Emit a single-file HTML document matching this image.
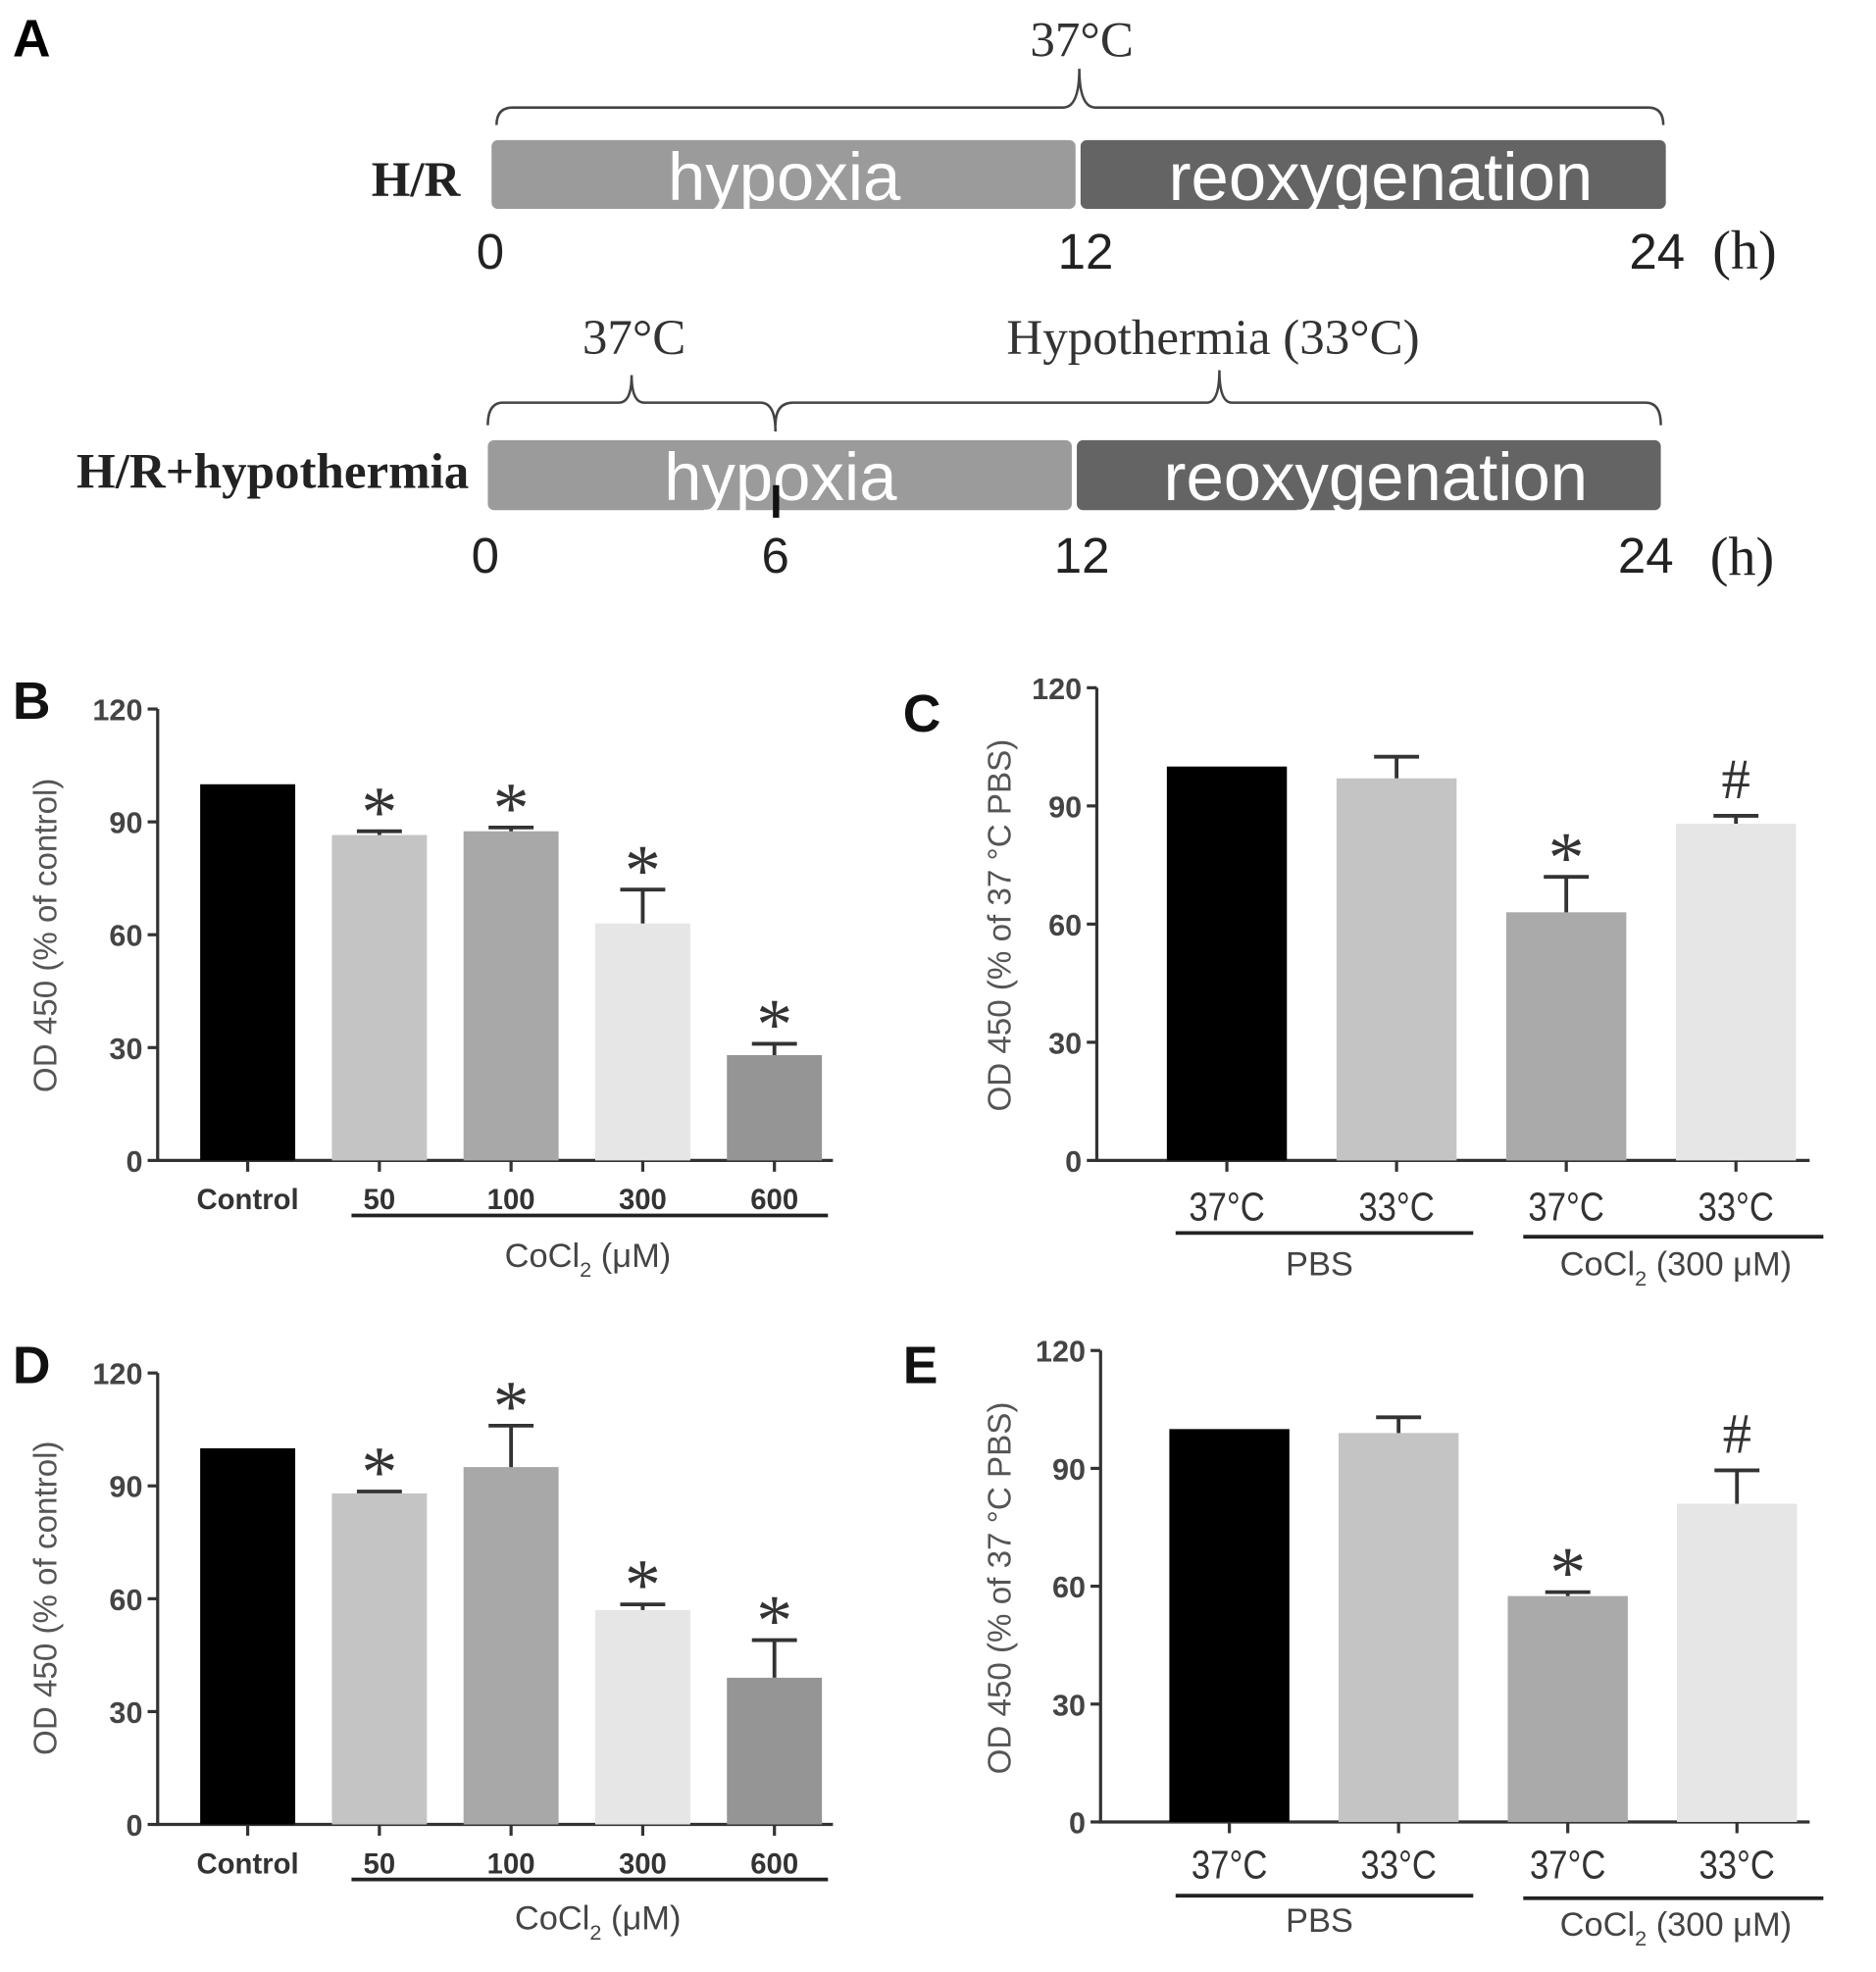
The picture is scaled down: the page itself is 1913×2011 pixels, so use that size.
<!DOCTYPE html>
<html><head><meta charset="utf-8">
<style>
html,body{margin:0;padding:0;background:#fff;}
svg{display:block;}
.ser{font-family:"Liberation Serif",serif;}
.san{font-family:"Liberation Sans",sans-serif;}
</style></head>
<body>
<svg id="fig" width="1913" height="2011" viewBox="0 0 1500 1577" xmlns="http://www.w3.org/2000/svg">
<rect width="1500" height="1577" fill="#fff"/>
<g>
<text x="10" y="45" class="san" font-size="42" font-weight="bold">A</text>
<path d="M397,100 Q397,86 410,86 L850,86 Q863,86 863,55 Q863,86 876,86 L1318,86 Q1330,86 1330,100" fill="none" stroke="#444" stroke-width="2"/>
<text x="865" y="45" class="ser" font-size="40" text-anchor="middle" fill="#333">37°C</text>
<text x="368" y="157" class="ser" font-size="40" font-weight="bold" text-anchor="end" fill="#222">H/R</text>
<rect x="393" y="112" width="467" height="55" rx="5" fill="#9b9b9b"/>
<rect x="864" y="112" width="468" height="55" rx="5" fill="#646464"/>
<text x="627" y="160" class="san" font-size="54" fill="#fff" text-anchor="middle">hypoxia</text>
<text x="1104" y="160" class="san" font-size="54" fill="#fff" text-anchor="middle">reoxygenation</text>
<g class="san" font-size="40" fill="#222" text-anchor="middle">
<text x="392" y="215">0</text>
<text x="868" y="215">12</text>
<text x="1325" y="215">24</text>
<text x="1393" y="460" class="ser" font-size="44">(h)</text>
<text x="388" y="458">0</text>
<text x="620" y="458">6</text>
<text x="865" y="458">12</text>
<text x="1316" y="458">24</text>
</g>
<text x="1395" y="215" class="ser" font-size="44" fill="#222" text-anchor="middle">(h)</text>
<path d="M390,340 Q390,322 402,322 L495,322 Q505,322 505,300 Q505,322 515,322 L608,322 Q620,322 620,345" fill="none" stroke="#444" stroke-width="2"/>
<path d="M620,340 Q620,322 634,322 L965,322 Q975,322 975,296 Q975,322 985,322 L1316,322 Q1328,322 1328,340" fill="none" stroke="#444" stroke-width="2"/>
<text x="507" y="283" class="ser" font-size="40" text-anchor="middle" fill="#333">37°C</text>
<text x="970" y="283" class="ser" font-size="40" text-anchor="middle" fill="#333">Hypothermia (33°C)</text>
<text x="375" y="390" class="ser" font-size="40" font-weight="bold" text-anchor="end" fill="#222">H/R+hypothermia</text>
<rect x="390" y="352" width="467" height="56" rx="5" fill="#9b9b9b"/>
<rect x="861" y="352" width="467" height="56" rx="5" fill="#646464"/>
<text x="624" y="400" class="san" font-size="54" fill="#fff" text-anchor="middle">hypoxia</text>
<text x="1100" y="400" class="san" font-size="54" fill="#fff" text-anchor="middle">reoxygenation</text>
<rect x="618" y="388" width="5" height="26" fill="#111"/>
</g>
<g id="charts"></g>
</svg>
<script>
// Panel B
const bCats = ["Control","50","100","300","600"];
const bVals = [100,86.5,87.5,63,28];
const bErr = [0,1,1,9,3];
const bMarks = ["","*","*","*","*"];
// Panel C
const cCats = ["37°C","33°C","37°C","33°C"];
const cVals = [100,97,63,85.5];
const cErr = [0,5.5,9,2];
const cMarks = ["","","*","#"];
// Panel D
const dCats = ["Control","50","100","300","600"];
const dVals = [100,88,95,57,39];
const dErr = [0,0.5,11,1.5,10];
const dMarks = ["","*","*","*","*"];
// Panel E
const eCats = ["37°C","33°C","37°C","33°C"];
const eVals = [100,99,57.5,81];
const eErr = [0,4,1,8.5];
const eMarks = ["","","*","#"];
const yTicks = [0,30,60,90,120];

const NS="http://www.w3.org/2000/svg";
const root=document.getElementById('charts');
function mk(tag,attrs,parent){const e=document.createElementNS(NS,tag);for(const k in attrs)e.setAttribute(k,attrs[k]);(parent||root).appendChild(e);return e;}

function chart(o){
  const g=mk('g',{});
  
  
  const y=v=>o.y0-(v/120)*(o.y0-o.y120);
  const ax=mk('path',{d:`M${o.ax},${o.y120} L${o.ax},${o.y0} L${o.axEnd},${o.y0}`,fill:'none',stroke:'#333','stroke-width':2.5},g);
  
  
  yTicks.forEach(t=>{
    const l=mk('line',{x1:o.ax-8,x2:o.ax,y1:y(t),y2:y(t),stroke:'#333','stroke-width':2.5},g);
    
    
    const tx=mk('text',{x:o.ax-12,y:y(t)+9,'text-anchor':'end','font-size':24,'font-weight':'bold','font-family':'Liberation Sans, sans-serif',fill:'#444'},g);
    tx.textContent=t;
    
    
  });
  const yl=mk('text',{x:0,y:0,transform:`translate(${o.ylx},${o.yly}) rotate(-90)`,'text-anchor':'middle','font-size':26,'font-family':'Liberation Sans, sans-serif',fill:'#555'},g);
  yl.textContent=o.ylabel;
  
  
  o.vals.forEach((v,i)=>{
    const x=o.x0+i*o.step, cx=x+o.bw/2;
    const r=mk('rect',{x:x,y:y(v),width:o.bw,height:o.y0-y(v),fill:o.colors[i]},g);
    
    
    if(o.err[i]>0){
      const e=mk('path',{d:`M${cx},${y(v)} L${cx},${y(v+o.err[i])} M${cx-18},${y(v+o.err[i])} L${cx+18},${y(v+o.err[i])}`,stroke:'#333','stroke-width':3,fill:'none'},g);
      
      
    }
    const tk=mk('line',{x1:cx,x2:cx,y1:o.y0,y2:o.y0+9,stroke:'#333','stroke-width':2.5},g);
    
    
    const lb=mk('text',{x:cx,y:o.lblY,'text-anchor':'middle','font-size':o.lblSize,'font-weight':o.lblBold?'bold':'normal','font-family':'Liberation Sans, sans-serif',fill:'#333'},g);
    lb.textContent=o.cats[i];
    if(!o.lblBold) lb.setAttribute('transform',`translate(${cx},0) scale(0.85,1) translate(${-cx},0)`);
    
    
    if(o.marks[i]){
      const top=y(v+o.err[i]);
      const isHash=o.marks[i]==='#';
      const m=mk('text',{x:cx,y:isHash?top-14:top+4,'text-anchor':'middle','font-size':isHash?46:58,'font-family':'Liberation Serif, serif',fill:'#333'},g);
      m.textContent=o.marks[i];
      
      
    }
  });
  o.groups.forEach(gr=>{
    const l=mk('line',{x1:gr.x1,x2:gr.x2,y1:gr.y,y2:gr.y,stroke:'#222','stroke-width':3},g);
    
    
    const t=mk('text',{x:gr.tx,y:gr.ty,'text-anchor':'middle','font-size':27,'font-family':'Liberation Sans, sans-serif',fill:'#444'},g);
    t.innerHTML=gr.html;
    
    
  });
  const pl=mk('text',{x:o.px,y:o.py,'font-size':42,'font-weight':'bold','font-family':'Liberation Sans, sans-serif',fill:'#111'},g);
  pl.textContent=o.panel;
  
  
}
const bColors=['#000','#c4c4c4','#a8a8a8','#e6e6e6','#959595'];
const cColors=['#000','#c4c4c4','#aaaaaa','#e6e6e6'];
const co='CoCl<tspan font-size="17" dy="8">2</tspan><tspan dy="-8"> (μM)</tspan>';
const co3='CoCl<tspan font-size="17" dy="8">2</tspan><tspan dy="-8"> (300 μM)</tspan>';
chart({name:'chart-b',panel:'B',px:10,py:575,cats:bCats,vals:bVals,err:bErr,marks:bMarks,colors:bColors,ax:126,axEnd:666,y0:928,y120:567,x0:160,step:105.3,bw:76,lblY:967,lblSize:23,lblBold:true,ylabel:'OD 450 (% of control)',ylx:45,yly:748,groups:[{x1:281,x2:662,y:972,tx:470,ty:1013,html:co}]});
chart({name:'chart-c',panel:'C',px:722,py:585,cats:cCats,vals:cVals,err:cErr,marks:cMarks,colors:cColors,ax:877,axEnd:1447,y0:928,y120:550,x0:933,step:135.7,bw:96,lblY:976,lblSize:32,lblBold:false,ylabel:'OD 450 (% of 37 °C PBS)',ylx:808,yly:740,groups:[{x1:940,x2:1178,y:986,tx:1055,ty:1020,html:'PBS'},{x1:1218,x2:1458,y:989,tx:1340,ty:1020,html:co3}]});
chart({name:'chart-d',panel:'D',px:10,py:1106,cats:dCats,vals:dVals,err:dErr,marks:dMarks,colors:bColors,ax:126,axEnd:666,y0:1459,y120:1098,x0:160,step:105.3,bw:76,lblY:1498,lblSize:23,lblBold:true,ylabel:'OD 450 (% of control)',ylx:45,yly:1278,groups:[{x1:281,x2:662,y:1503,tx:478,ty:1543,html:co}]});
chart({name:'chart-e',panel:'E',px:722,py:1106,cats:eCats,vals:eVals,err:eErr,marks:eMarks,colors:cColors,ax:880,axEnd:1447,y0:1457,y120:1080,x0:935,step:135.3,bw:96,lblY:1502,lblSize:32,lblBold:false,ylabel:'OD 450 (% of 37 °C PBS)',ylx:808,yly:1270,groups:[{x1:940,x2:1178,y:1516,tx:1055,ty:1545,html:'PBS'},{x1:1218,x2:1458,y:1518,tx:1340,ty:1548,html:co3}]});
</script>
</body></html>
